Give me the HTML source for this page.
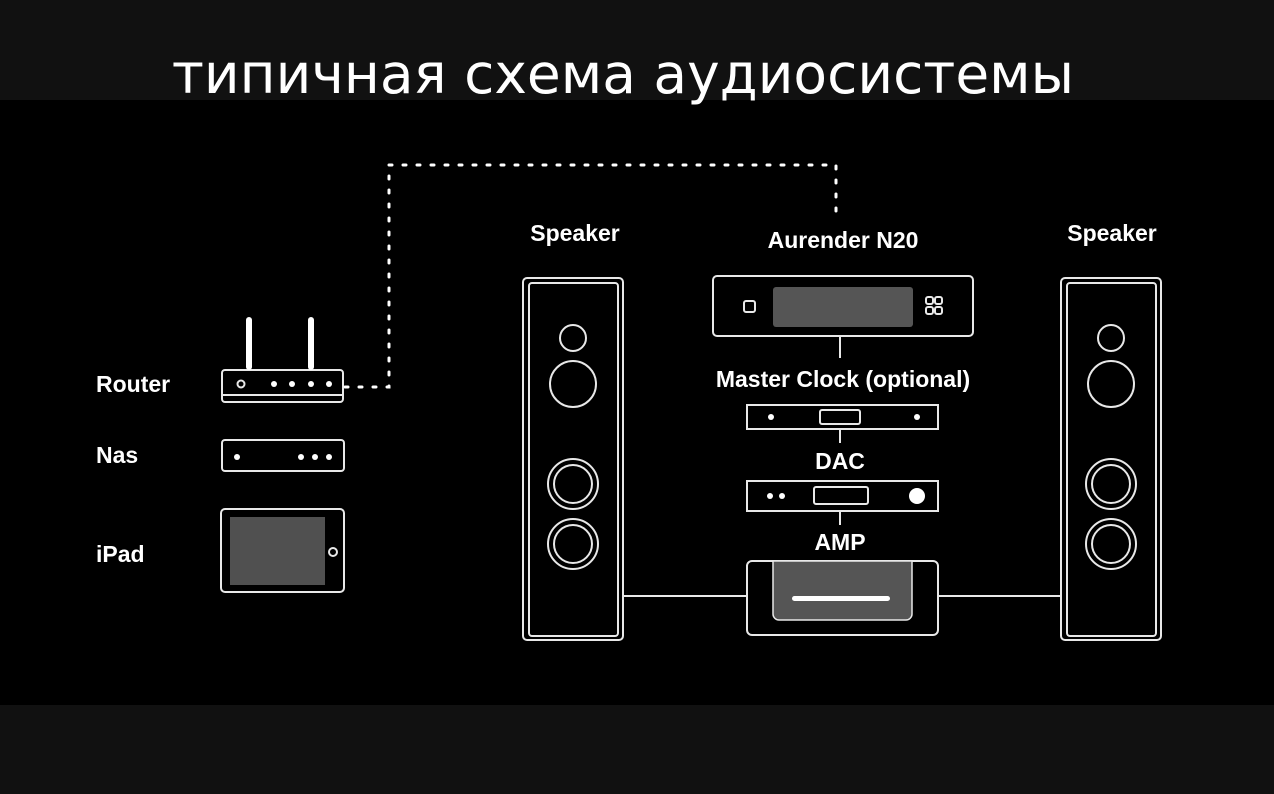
<!DOCTYPE html>
<html><head><meta charset="utf-8"><style>
html,body{margin:0;padding:0;background:#111;}
svg{display:block}
text{font-family:"Liberation Sans","DejaVu Sans",sans-serif;fill:#fff}
</style></head><body>
<svg width="1274" height="794" viewBox="0 0 1274 794" xmlns="http://www.w3.org/2000/svg">
<rect x="0" y="0" width="1274" height="794" fill="#111"/>
<rect x="0" y="100" width="1274" height="605" fill="#000"/>
<text x="623" y="93" text-anchor="middle" font-size="55" style="font-family:'DejaVu Sans','Liberation Sans',sans-serif">типичная схема аудиосистемы</text>
<g fill="none" stroke="#e8e8e8" stroke-width="2">
<rect x="222" y="370" width="121" height="32" rx="3"/>
<line x1="222" y1="395" x2="343" y2="395"/>
<circle cx="241" cy="384" r="3.5"/>
<rect x="222" y="440" width="122" height="31" rx="3"/>
<rect x="221" y="509" width="123" height="83" rx="4"/>
<circle cx="333" cy="552" r="4"/>
<rect x="523" y="278" width="100" height="362" rx="4"/>
<rect x="529" y="283" width="89" height="353" rx="3"/>
<circle cx="573" cy="338" r="13"/>
<circle cx="573" cy="384" r="23"/>
<circle cx="573" cy="484" r="25"/><circle cx="573" cy="484" r="19"/>
<circle cx="573" cy="544" r="25"/><circle cx="573" cy="544" r="19"/>
<rect x="1061" y="278" width="100" height="362" rx="4"/>
<rect x="1067" y="283" width="89" height="353" rx="3"/>
<circle cx="1111" cy="338" r="13"/>
<circle cx="1111" cy="384" r="23"/>
<circle cx="1111" cy="484" r="25"/><circle cx="1111" cy="484" r="19"/>
<circle cx="1111" cy="544" r="25"/><circle cx="1111" cy="544" r="19"/>
<rect x="713" y="276" width="260" height="60" rx="4"/>
<rect x="744" y="301" width="11" height="11" rx="2"/>
<rect x="926" y="297" width="7" height="7" rx="2"/><rect x="935" y="297" width="7" height="7" rx="2"/>
<rect x="926" y="307" width="7" height="7" rx="2"/><rect x="935" y="307" width="7" height="7" rx="2"/>
<line x1="840" y1="336" x2="840" y2="358"/>
<rect x="747" y="405" width="191" height="24"/>
<rect x="820" y="410" width="40" height="14" rx="2"/>
<line x1="840" y1="429" x2="840" y2="443"/>
<rect x="747" y="481" width="191" height="30"/>
<rect x="814" y="487" width="54" height="17" rx="2"/>
<line x1="840" y1="511" x2="840" y2="525"/>
<rect x="747" y="561" width="191" height="74" rx="5"/>
<line x1="623" y1="596" x2="747" y2="596"/>
<line x1="938" y1="596" x2="1061" y2="596"/>
</g>
<g fill="#fff">
<rect x="246" y="317" width="6" height="53" rx="3"/>
<rect x="308" y="317" width="6" height="53" rx="3"/>
<circle cx="274" cy="384" r="3"/><circle cx="292" cy="384" r="3"/><circle cx="311" cy="384" r="3"/><circle cx="329" cy="384" r="3"/>
<circle cx="237" cy="457" r="3"/><circle cx="301" cy="457" r="3"/><circle cx="315" cy="457" r="3"/><circle cx="329" cy="457" r="3"/>
<circle cx="771" cy="417" r="3"/><circle cx="917" cy="417" r="3"/>
<circle cx="770" cy="496" r="3"/><circle cx="782" cy="496" r="3"/>
<circle cx="917" cy="496" r="8"/>
</g>
<rect x="230" y="517" width="95" height="68" fill="#505050"/>
<rect x="773" y="287" width="140" height="40" rx="3" fill="#555"/>
<path d="M773 561 V614 a6 6 0 0 0 6 6 H906 a6 6 0 0 0 6 -6 V561 Z" fill="#555" stroke="#e8e8e8" stroke-width="1.5"/>
<rect x="792" y="596" width="98" height="5" rx="2.5" fill="#fff"/>
<path d="M345 387 H389 V165 H836 V214" fill="none" stroke="#fff" stroke-width="3" stroke-dasharray="3 11" stroke-linecap="round"/>
<g font-size="23" font-weight="bold">
<text x="96" y="392">Router</text>
<text x="96" y="463">Nas</text>
<text x="96" y="562">iPad</text>
<text x="575" y="241" text-anchor="middle">Speaker</text>
<text x="843" y="248" text-anchor="middle">Aurender N20</text>
<text x="1112" y="241" text-anchor="middle">Speaker</text>
<text x="843" y="387" text-anchor="middle">Master Clock (optional)</text>
<text x="840" y="469" text-anchor="middle">DAC</text>
<text x="840" y="550" text-anchor="middle">AMP</text>
</g>
</svg>
</body></html>
